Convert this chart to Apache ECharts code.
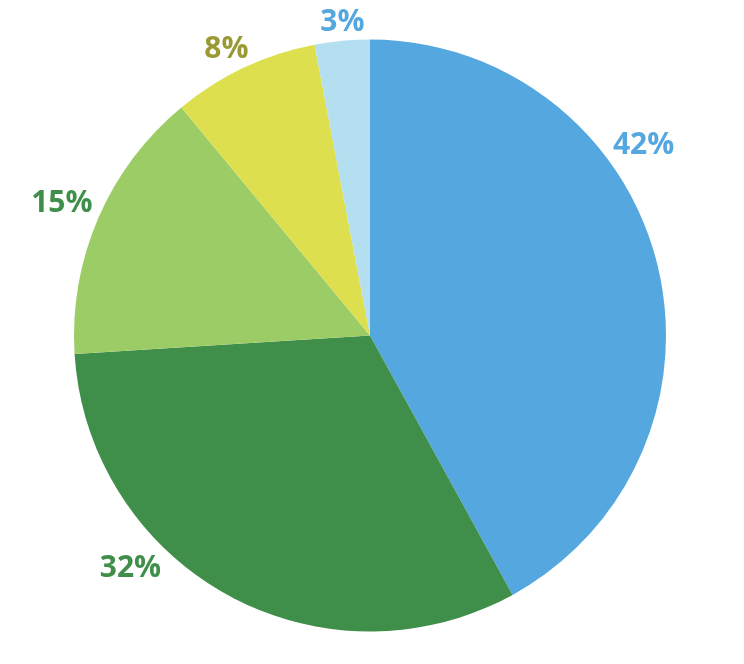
<!DOCTYPE html>
<html><head><meta charset="utf-8">
<script src="https://cdn.jsdelivr.net/npm/echarts@6/dist/echarts.min.js"></script>
<style>html,body{margin:0;padding:0;background:#fff}#c{width:744px;height:664px}</style>
</head><body><div id="c"></div>
<script>
const categories = ['A', 'B', 'C', 'D', 'E'];
const values = [42, 32, 15, 8, 3];
const sliceColors = ['#55a7df', '#3f8f4a', '#9ccc65', '#dedf4e', '#b3dff0'];
const labelColors = ['#55a7df', '#3f8f4a', '#3f8f4a', '#9a9a34', '#55a7df'];
// label placement (degrees clockwise from top, distance from center)
const labelAngles = [55, 226, 293.5, 333.5, 355];
const labelDist = [334, 333, 336, 322, 316];

const cx = 370, cy = 335.5, R = 296;
const chart = echarts.init(document.getElementById('c'));
chart.setOption({
  animation: false,
  series: [{
    type: 'pie',
    center: [cx, cy],
    radius: R,
    startAngle: 90,
    clockwise: true,
    data: categories.map((n, i) => ({
      name: n, value: values[i],
      itemStyle: { color: sliceColors[i] },
      label: { color: labelColors[i] }
    })),
    label: {
      show: true,
      position: 'outside',
      formatter: p => p.value + '%',
      fontFamily: 'Open Sans',
      fontWeight: 'bold',
      fontSize: 30,
      overflow: 'none',
      width: 120
    },
    labelLine: { show: false },
    labelLayout: function (p) {
      const i = p.dataIndex;
      const a = labelAngles[i] * Math.PI / 180;
      return {
        x: cx + labelDist[i] * Math.sin(a),
        y: cy + 2 - labelDist[i] * Math.cos(a),
        align: 'center',
        verticalAlign: 'middle'
      };
    }
  }]
});
</script></body></html>
